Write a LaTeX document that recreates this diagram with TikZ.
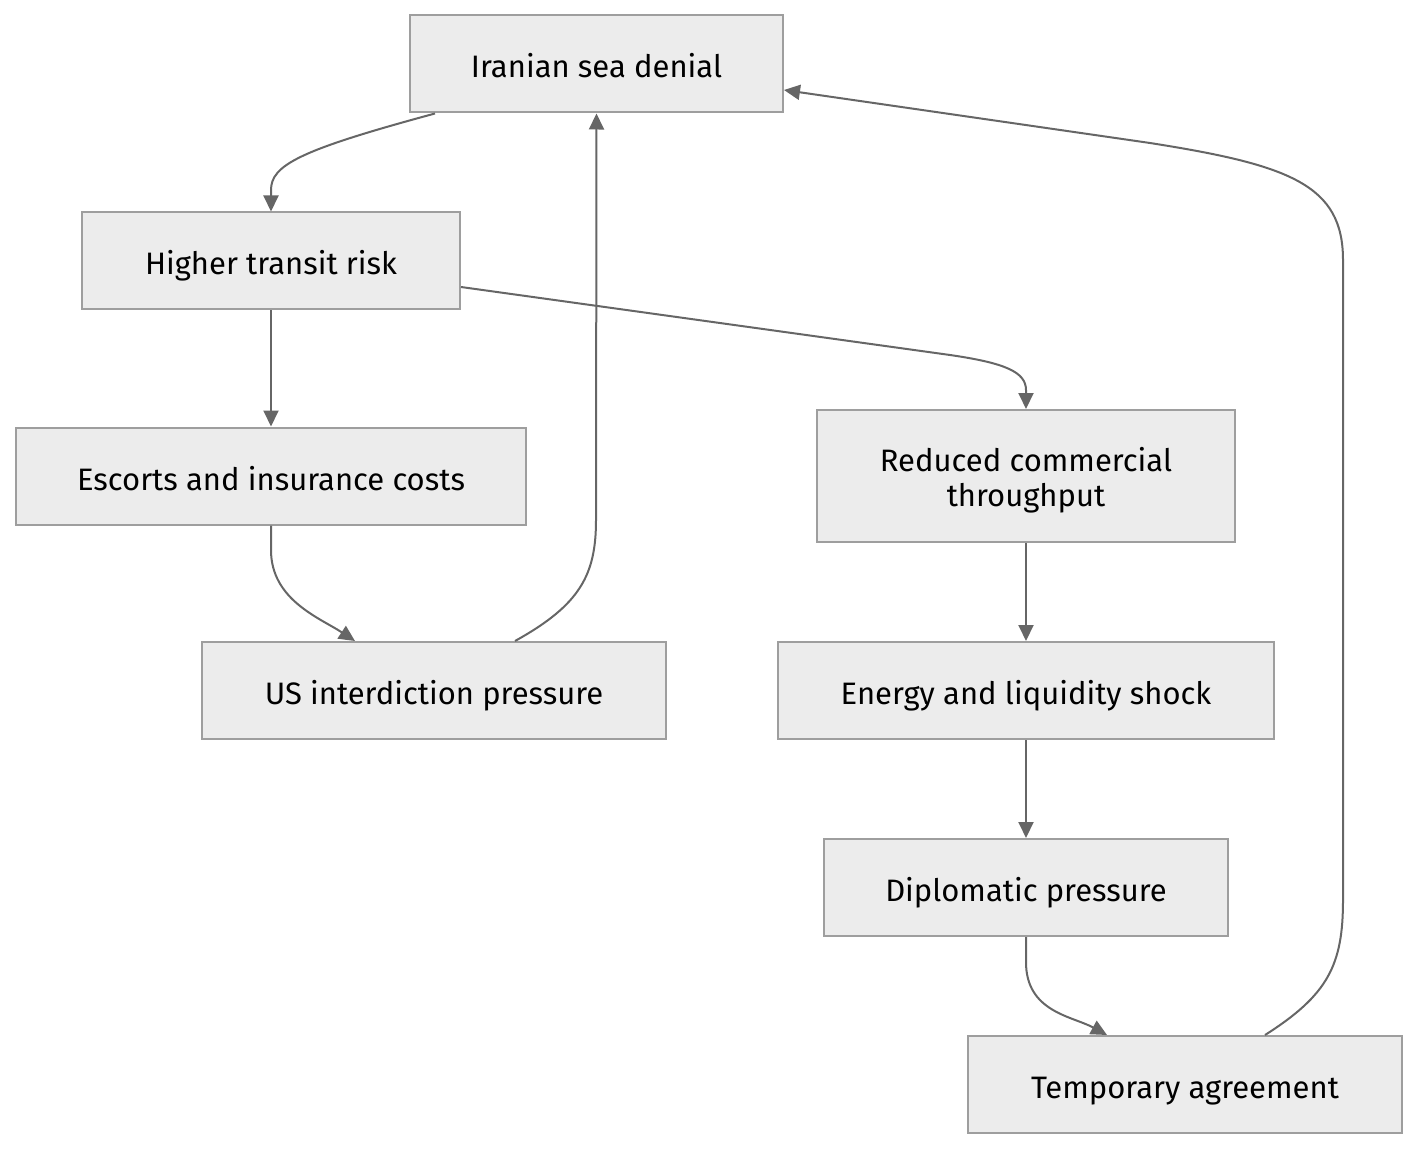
\documentclass[tikz,border=0pt]{standalone}
\usepackage{fontspec}
\setmainfont{Fira Sans}
\usepackage{xcolor}
\usetikzlibrary{arrows.meta}
\definecolor{boxfill}{HTML}{ECECEC}
\definecolor{boxline}{HTML}{9E9E9E}
\definecolor{edgeline}{HTML}{666666}
\tikzset{
	box/.style={draw=boxline,fill=boxfill,line width=2pt,align=center,
		font=\fontsize{31}{35}\selectfont,inner sep=0pt,minimum height=97pt,
		text height=28pt,text depth=0pt},
	edge/.style={draw=edgeline,line width=2pt,
		-{Triangle[length=16pt,width=15pt]}}
}
\begin{document}
\begin{tikzpicture}[x=1pt,y=-1pt]
	\useasboundingbox (0,0) rectangle (1419,1150);
	% boxes
	\node[box,minimum width=373pt] (iran) at (596.5,64) {Iranian sea denial};
	\node[box,minimum width=378pt] (risk) at (271,261) {Higher transit risk};
	\node[box,minimum width=510pt] (cost) at (271,476) {Escorts and insurance costs};
	\node[box,minimum width=464pt] (us) at (434,690.5) {US interdiction pressure};
	\node[box,minimum width=418pt,minimum height=132pt,text height=61pt] (flow) at (1026,476) {Reduced commercial\\throughput};
	\node[box,minimum width=496pt] (shock) at (1026,690.5) {Energy and liquidity shock};
	\node[box,minimum width=404pt] (diplo) at (1026,887.5) {Diplomatic pressure};
	\node[box,minimum width=434pt] (deal) at (1185,1084.5) {Temporary agreement};
	% edges
	\draw[edge] ([xshift=-161.5pt]iran.south) .. controls (300,150) and (271,165) .. (271,190) -- (risk.north);
	\draw[edge] (risk.south) -- (cost.north);
	\draw[edge] ([yshift=-26pt]risk.east) -- (950,355) .. controls (1005,363) and (1026,372) .. (1026,390) -- (flow.north);
	\draw[edge] (cost.south) -- (271,550) .. controls (271,600) and (320,618) .. ([xshift=-79pt]us.north);
	\draw[edge] ([xshift=81pt]us.north) .. controls (580,605) and (596,575) .. (596,520) -- (iran.south);
	\draw[edge] (flow.south) -- (shock.north);
	\draw[edge] (shock.south) -- (diplo.north);
	\draw[edge] (diplo.south) -- (1026,962) .. controls (1026,1012) and (1072,1016) .. ([xshift=-78pt]deal.north);
	\draw[edge] ([xshift=80pt]deal.north) .. controls (1328,995) and (1343,965) .. (1343,900) -- (1343,260)
		.. controls (1343,185) and (1290,165) .. (1150,143) -- ([yshift=-26pt]iran.east);
\end{tikzpicture}
\end{document}
